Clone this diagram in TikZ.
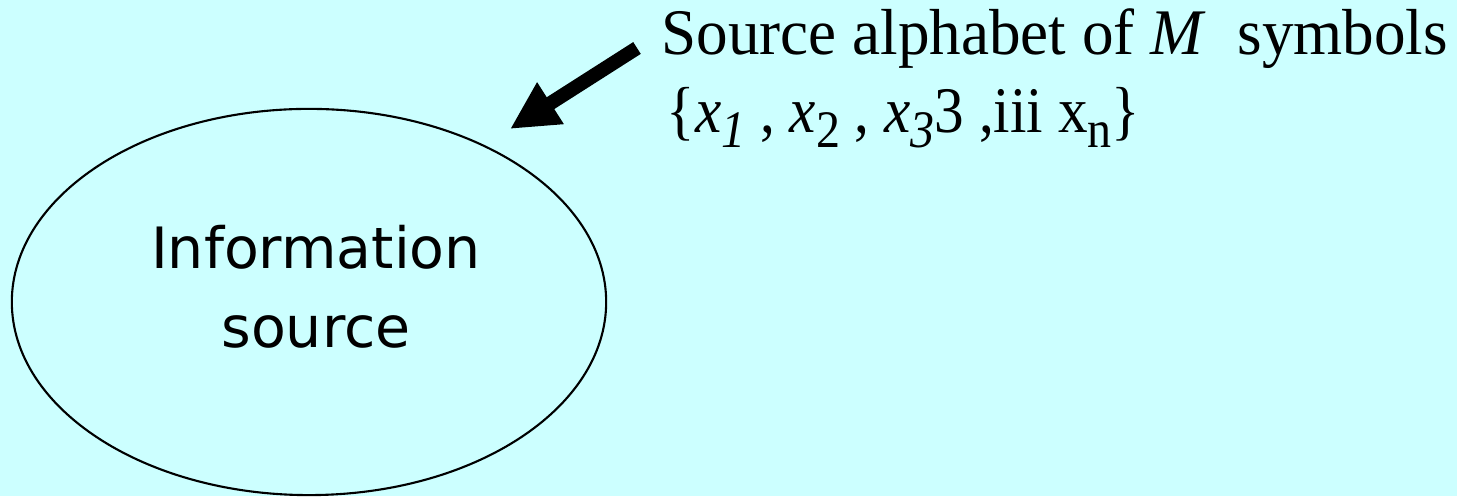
\documentclass[tikz,border=0pt]{standalone}
\usepackage{fontspec}
\setmainfont{Liberation Serif}
\newfontfamily\labelsans{DejaVu Sans}
\usetikzlibrary{arrows.meta,shapes.geometric}
\definecolor{paleCyan}{HTML}{CCFFFF}
\newcommand{\lowsub}[1]{\raisebox{-4pt}{\fontsize{15}{15}\selectfont #1}}

\begin{document}
\begin{tikzpicture}[
    x=0.01cm,
    y=-0.01cm,
    line cap=round,
    line join=round,
    srcshape/.style={draw=black, line width=0.6pt, ellipse, inner sep=0pt, minimum width=5.94cm, minimum height=3.86cm},
    srctext/.style={font=\labelsans\fontsize{16.2}{22.5}\selectfont, align=center, inner sep=0pt},
    alphatext/.style={font=\fontsize{18.5}{22}\selectfont, anchor=base west, inner sep=0pt},
    bigarrow/.style={draw=black, line width=0.14cm, line cap=butt, -{Triangle[length=0.48cm,width=0.46cm]}},
  ]

  % Background
  \fill[paleCyan] (0,0) rectangle (1457,496);

  % Source ellipse and its label
  \node[srcshape] (src) at (309,302) {};
  \node[srctext] (srclabel) at (316,287) {Information\\source};

  % Alphabet text
  \node[alphatext] (alpha) at (661,55) {\scalebox{0.97}[1]{Source alphabet of \textit{M}\ \ symbols}};
  \node[alphatext] (symset) at (666,133) {\scalebox{0.91}[1]{\{\textit{x}\lowsub{\textit{1}} , \textit{x}\lowsub{2} , \textit{x}\lowsub{\textit{3}}3 ,iii x\lowsub{n}\}}};

  % Pointer from the text to the source
  \coordinate (tail) at (637,48);
  \coordinate (tip) at (510,129);
  \draw[bigarrow] (tail) -- (tip);

  \path[use as bounding box] (0,0) rectangle (1457,496);
\end{tikzpicture}
\end{document}
